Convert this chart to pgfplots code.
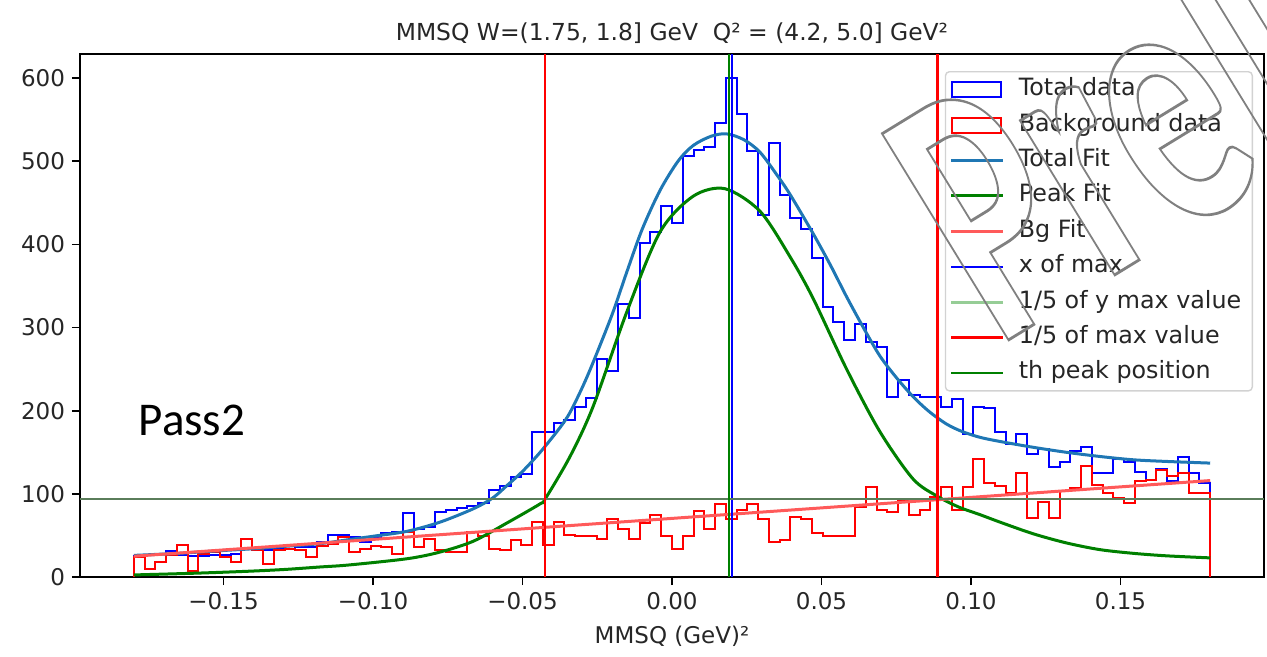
\documentclass[border=0pt]{standalone}
\usepackage{fontspec}
\setmainfont{DejaVu Sans}
\newfontfamily\calibri{Carlito}
\usepackage{pgfplots}
\pgfplotsset{compat=1.18}
\usepackage{pgfplotstable}
\usetikzlibrary{calc}

\definecolor{tabblue}{HTML}{1F77B4}
\definecolor{pkgreen}{HTML}{008000}
\definecolor{bgred}{HTML}{FF5A5A}
\definecolor{hline}{RGB}{90,125,90}
\definecolor{hlinelg}{RGB}{150,205,150}

\pgfplotsset{
  legend image code/.code={\draw[#1] (0pt,0pt) -- (26pt,0pt);},
  histleg/.style={legend image code/.code={\draw[##1, sharp corners] (0.5pt,-3.7pt) rectangle (25pt,3.7pt);}},
  hlineleg/.style={legend image code/.code={\draw[hlinelg, line width=1.5pt] (0pt,0pt) -- (26pt,0pt);}},
}

% bin left edge, total data, background data
\pgfplotstableread{
x b r
-0.1800 0 0
-0.1800 25 24
-0.1764 10 10
-0.1728 18 18
-0.1692 31 26
-0.1656 27 38
-0.1620 25 7
-0.1584 25 28
-0.1548 27 30
-0.1512 26 24
-0.1476 28 18
-0.1440 34 46
-0.1404 32 32
-0.1368 32 16
-0.1332 34 32
-0.1296 34 34
-0.1260 36 32
-0.1224 36 24
-0.1188 42 37
-0.1152 50 40
-0.1116 50 48
-0.1080 48 30
-0.1044 42 34
-0.1008 48 37
-0.0972 53 36
-0.0936 54 28
-0.0900 77 54
-0.0864 58 36
-0.0828 60 46
-0.0792 78 33
-0.0756 80 30
-0.0720 83 30
-0.0684 86 54
-0.0648 89 49
-0.0612 105 34
-0.0576 109 33
-0.0540 120 44
-0.0504 124 38
-0.0468 175 66
-0.0432 175 38
-0.0396 185 66
-0.0360 189 50
-0.0324 205 49
-0.0288 215 49
-0.0252 262 46
-0.0216 248 70
-0.0180 328 58
-0.0144 311 46
-0.0108 402 65
-0.0072 415 75
-0.0036 446 49
0.0000 426 34
0.0036 506 49
0.0072 514 79
0.0108 517 58
0.0144 546 88
0.0180 600 70
0.0216 557 80
0.0252 512 88
0.0288 435 70
0.0324 522 42
0.0360 460 45
0.0396 432 72
0.0432 418 70
0.0468 384 53
0.0504 325 49
0.0540 307 49
0.0576 285 49
0.0612 304 84
0.0648 283 108
0.0684 277 81
0.0720 216 78
0.0756 237 92
0.0792 219 74
0.0828 217 81
0.0864 217 96
0.0900 205 108
0.0936 214 81
0.0972 172 108
0.1008 205 142
0.1044 203 113
0.1080 175 109
0.1116 160 101
0.1152 172 125
0.1188 148 71
0.1224 154 90
0.1260 132 71
0.1296 138 103
0.1332 152 107
0.1368 156 133
0.1404 125 111
0.1440 125 101
0.1476 142 95
0.1512 138 89
0.1548 126 115
0.1584 117 117
0.1620 130 129
0.1656 115 121
0.1692 144 125
0.1728 125 101
0.1764 113 101
0.1800 113 101
0.1800 0 0
}\hist

\begin{document}
\begin{tikzpicture}
\begin{axis}[
  name=ax,
  scale only axis,
  width=592pt, height=261.5pt,
  xmin=-0.198, xmax=0.198, ymin=0, ymax=629,
  axis line style={line width=0.9pt},
  tick align=outside, major tick length=4pt,
  tick style={black, line width=0.9pt},
  xtick pos=bottom, ytick pos=left,
  xtick={-0.15,-0.1,-0.05,0,0.05,0.1,0.15},
  xticklabels={−0.15,−0.10,−0.05,0.00,0.05,0.10,0.15},
  ytick={0,100,200,300,400,500,600},
  yticklabels={0,100,200,300,400,500,600},
  tick label style={font=\fontsize{11.5}{13}\selectfont, text=black!85},
  xlabel={MMSQ (GeV)²},
  xlabel style={at={(axis description cs:0.5,0)}, anchor=center, yshift=-29.5pt, font=\fontsize{11.5}{13}\selectfont, text=black!85},
  title={MMSQ W=(1.75, 1.8] GeV\ \ Q² = (4.2, 5.0] GeV²},
  title style={at={(axis description cs:0.5,1)}, anchor=center, yshift=4.5pt, font=\fontsize{11.7}{13}\selectfont, text=black!85},
  legend style={at={(rel axis cs:0.9907,0.9675)}, anchor=north east,
    draw={rgb,255:red,210;green,210;blue,210}, line width=0.7pt, rounded corners=2pt,
    fill=white, fill opacity=0.8, text opacity=1,
    font=\fontsize{11.9}{13}\selectfont, text=black!85,
    inner xsep=2.2pt, inner ysep=2pt, row sep=3.7pt,
    nodes={inner xsep=0pt, inner ysep=1.5pt, text height=8.5pt, text depth=2.5pt},
    /tikz/every odd column/.append style={column sep=7pt}},
  legend cell align=left,
]
\addplot[const plot, blue, line width=1pt, histleg] table[x=x,y=b]{\hist};
\addlegendentry{Total data}
\addplot[const plot, red, line width=1pt, histleg] table[x=x,y=r]{\hist};
\addlegendentry{Background data}

\addplot[tabblue, line width=1.5pt, smooth] coordinates {
(-0.1800,26) (-0.1650,28.5) (-0.1520,31.5) (-0.1400,34) (-0.1290,37) (-0.1180,40)
(-0.1080,45) (-0.1000,49) (-0.0886,55) (-0.0776,66) (-0.0665,82) (-0.0600,95)
(-0.0552,110) (-0.0500,127) (-0.0441,150) (-0.0374,180) (-0.0341,198) (-0.0300,228)
(-0.0264,258) (-0.0200,316) (-0.0152,366) (-0.0100,418) (-0.0040,465) (0.0020,500)
(0.0071,519) (0.0130,530) (0.0182,533) (0.0240,526) (0.0294,511) (0.0350,484)
(0.0395,460) (0.0472,413) (0.0530,375) (0.0584,337) (0.0640,300) (0.0695,266)
(0.0750,240) (0.0806,217) (0.0860,199) (0.0918,184) (0.0970,175) (0.1030,168)
(0.1097,163) (0.1208,156) (0.1319,150) (0.1430,145) (0.1542,141) (0.1653,139)
(0.1800,137)};
\addlegendentry{Total Fit}
\addplot[pkgreen, line width=1.5pt, smooth] coordinates {
(-0.1800,2.5) (-0.1630,4.2) (-0.1520,5.5) (-0.1400,7.2) (-0.1290,9.2) (-0.1180,12)
(-0.1080,14.5) (-0.0886,22) (-0.0776,30) (-0.0665,43) (-0.0552,65) (-0.0441,88)
(-0.0424,94) (-0.0341,145) (-0.0264,205) (-0.0152,318) (-0.0040,415) (0.0071,458)
(0.0177,467) (0.0294,440) (0.0395,385) (0.0472,335) (0.0584,250) (0.0695,175)
(0.0806,118) (0.0888,97) (0.0960,84) (0.1030,75) (0.1097,66) (0.1208,52)
(0.1319,41) (0.1430,33) (0.1542,28.5) (0.1653,25.5) (0.1800,23)};
\addlegendentry{Peak Fit}
\addplot[bgred, line width=1.5pt] coordinates {(-0.18,25) (0.18,116)};
\addlegendentry{Bg Fit}
\addplot[blue, line width=1.2pt] coordinates {(0.0200,0) (0.0200,629)};
\addlegendentry{x of max}
\addplot[hline, line width=1.1pt, hlineleg] coordinates {(-0.198,93.4) (0.198,93.4)};
\addlegendentry{1/5 of y max value\hspace*{3.3pt}}
\addplot[red, line width=1.2pt] coordinates {(-0.0424,0) (-0.0424,629)};
\addlegendentry{1/5 of max value}
\addplot[red, line width=1.2pt, forget plot] coordinates {(0.0888,0) (0.0888,629)};
\addplot[pkgreen, line width=1.2pt] coordinates {(0.0190,0) (0.0190,629)};
\addlegendentry{th peak position}

\node[anchor=base west, inner sep=0pt, font=\calibri\fontsize{23.5}{26}\selectfont]
  at (axis cs:-0.1785,169.7) {Pass2};
\end{axis}
% outlined watermark
\node[anchor=base west, inner sep=0pt, rotate=31.5, xscale=0.63,
  font=\calibri\bfseries\fontsize{186.5}{190}\selectfont]
  at ($(ax.south west)+(458.5pt,115pt)$)
  {\special{pdf:literal direct 1 Tr 1.4 w 0.5 0.5 0.5 RG}Preliminary\special{pdf:literal direct 0 Tr}};
\pgfresetboundingbox
\path[use as bounding box] ($(ax.south west)+(-40pt,-39.5pt)$) rectangle ($(ax.north east)+(1.5pt,27pt)$);
\end{tikzpicture}
\end{document}
